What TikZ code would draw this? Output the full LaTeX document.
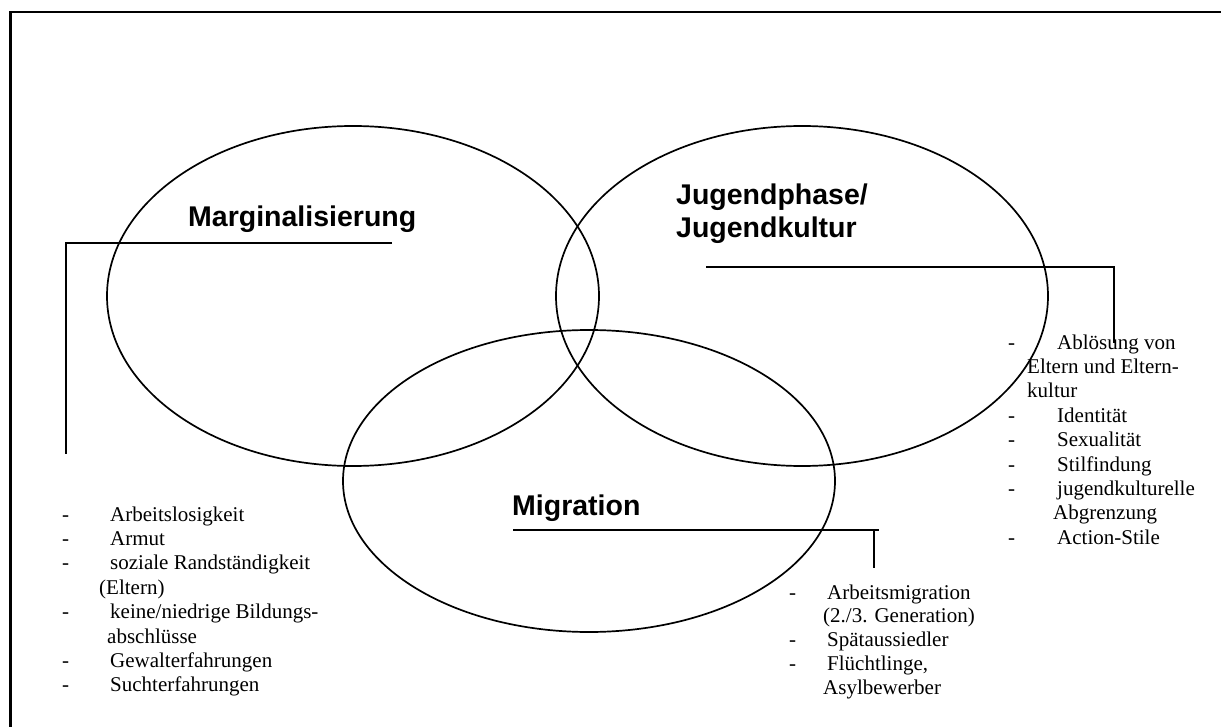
\documentclass[tikz,border=0pt]{standalone}
\usepackage{fontspec}
\setmainfont{Liberation Serif}
\newfontfamily\titlefont{Liberation Sans}
\usetikzlibrary{shapes.geometric}
\newcommand\dsh[2]{\makebox[#1pt][l]{-}#2}
\begin{document}
\begin{tikzpicture}[x=1pt,y=-1pt,
  circ/.style={ellipse,draw,line width=1.7pt,inner sep=0pt,minimum width=492pt},
  ttl/.style={font=\titlefont\bfseries\fontsize{28.5}{33}\selectfont,anchor=base west,inner sep=0pt},
  itm/.style={font=\fontsize{21}{24}\selectfont,anchor=base west,inner sep=0pt},
  conn/.style={line width=1.7pt}]
\useasboundingbox (0,0) rectangle (1221,727);
\clip (0,0) rectangle (1221,727);
\draw[line width=2.2pt] (10.5,12) rectangle (1240,745);
% ellipses
\node[circ,minimum height=340pt] (marg) at (353,296) {};
\node[circ,minimum height=340pt] (jug) at (802,296) {};
\node[circ,minimum height=302pt] (mig) at (589,481) {};
% titles
\node[ttl] (margT) at (188,227) {Marginalisierung};
\node[ttl] (jugT1) at (676,205) {Jugendphase/};
\node[ttl] (jugT2) at (676,238) {Jugendkultur};
\node[ttl] (migT) at (512,515) {Migration};
% connectors
\coordinate (m1) at (392,243); \coordinate (m2) at (66,243); \coordinate (m3) at (66,454);
\draw[conn] (m1) -- (m2) -- (m3);
\coordinate (j1) at (706,267); \coordinate (j2) at (1114,267); \coordinate (j3) at (1114,343);
\draw[conn] (j1) -- (j2) -- (j3);
\coordinate (g1) at (513,530); \coordinate (g2) at (879,530);
\coordinate (g3) at (874,530); \coordinate (g4) at (874,568);
\draw[conn] (g1) -- (g2);
\draw[conn] (g3) -- (g4);
% left list
\node[itm] (l1) at (62,521) {\dsh{48}{Arbeitslosigkeit}};
\node[itm] (l2) at (62,545.4) {\dsh{48}{Armut}};
\node[itm] (l3) at (62,569.8) {\dsh{48}{soziale Randständigkeit}};
\node[itm] (l4) at (99,594.2) {(Eltern)};
\node[itm] (l5) at (62,618.6) {\dsh{48}{keine/niedrige Bildungs-}};
\node[itm] (l6) at (107,643) {abschlüsse};
\node[itm] (l7) at (62,667.4) {\dsh{48}{Gewalterfahrungen}};
\node[itm] (l8) at (62,691.8) {\dsh{48}{Suchterfahrungen}};
% right list
\node[itm] (r1) at (1008,349) {\dsh{49}{Ablösung von}};
\node[itm] (r2) at (1027,373.4) {Eltern und Eltern-};
\node[itm] (r3) at (1027,397.8) {kultur};
\node[itm] (r4) at (1008,422.2) {\dsh{49}{Identität}};
\node[itm] (r5) at (1008,446.6) {\dsh{49}{Sexualität}};
\node[itm] (r6) at (1008,471) {\dsh{49}{Stilfindung}};
\node[itm] (r7) at (1008,495.4) {\dsh{49}{jugendkulturelle}};
\node[itm] (r8) at (1053,519.8) {Abgrenzung};
\node[itm] (r9) at (1008,544.2) {\dsh{49}{Action-Stile}};
% migration list
\node[itm] (g5) at (789,599) {\dsh{38}{Arbeitsmigration}};
\node[itm] (g6) at (823,622.8) {(2./3. Generation)};
\node[itm] (g7) at (789,646.6) {\dsh{38}{Spätaussiedler}};
\node[itm] (g8) at (789,670.4) {\dsh{38}{Flüchtlinge,}};
\node[itm] (g9) at (823,694.2) {Asylbewerber};
\end{tikzpicture}
\end{document}
